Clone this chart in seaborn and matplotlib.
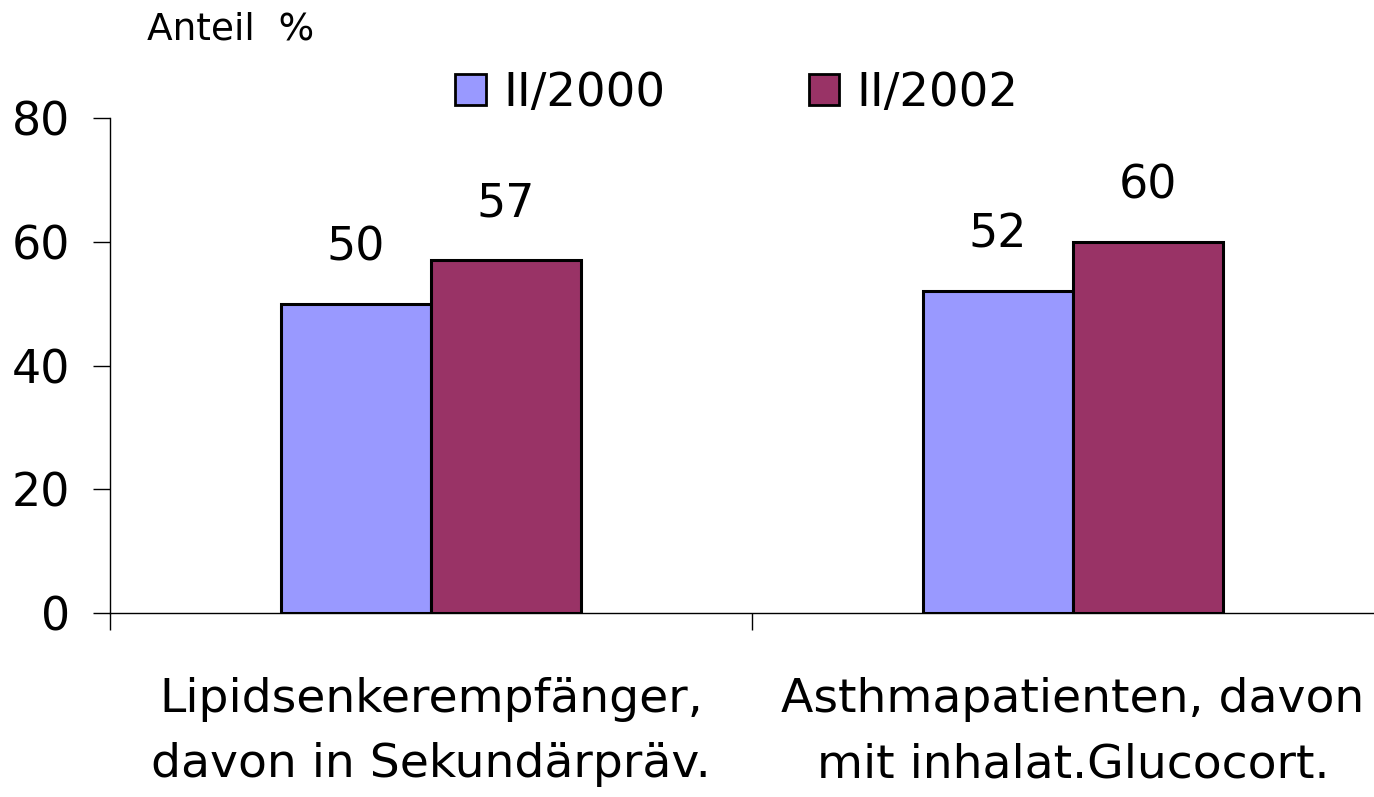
import matplotlib
matplotlib.use("Agg")
import matplotlib.pyplot as plt
import matplotlib.patches as mpatches
import seaborn as sns
import pandas as pd

categories = ["Lipidsenkerempfänger,\ndavon in Sekundärpräv.",
              "Asthmapatienten, davon\nmit inhalat.Glucocort."]
series = ["II/2000", "II/2002"]
values_2000 = [50, 52]
values_2002 = [57, 60]
colors = ["#9999FF", "#993366"]
y_ticks = [0, 20, 40, 60, 80]

sns.set_theme(style="white", rc={"text.color": "black", "xtick.color": "black",
                                 "ytick.color": "black", "axes.labelcolor": "black"})
plt.rcParams["font.family"] = ["DejaVu Sans"]

df = pd.DataFrame({
    "Kategorie": categories * 2,
    "Jahr": [series[0]] * 2 + [series[1]] * 2,
    "Anteil": values_2000 + values_2002,
})

fig = plt.figure(figsize=(13.74, 7.97), dpi=100)
ax = fig.add_axes([110 / 1374, 1 - 613 / 797, 1264 / 1374, 495 / 797])

sns.barplot(data=df, x="Kategorie", y="Anteil", hue="Jahr", order=categories,
            hue_order=series, palette=colors, width=0.467, gap=0,
            edgecolor="black", linewidth=2.2, saturation=1, legend=False, ax=ax)

# value labels above bars
for cont in ax.containers:
    ax.bar_label(cont, padding=24, fontsize=33, color="black")

ax.set_ylim(0, 80)
ax.set_xlim(-0.5, 1.5 - 20 / 642)
ax.set_yticks(y_ticks)
ax.tick_params(axis="y", direction="out", length=12, width=1, labelsize=33, pad=17, left=True)

# ticks at the category borders, labels centered
ax.set_xticks([-0.5, 0.5])
ax.set_xticklabels(["", ""])
ax.set_xticks([0, 1], minor=True)
ax.set_xticklabels(categories, minor=True, fontsize=34, linespacing=1.58)
ax.tick_params(axis="x", which="major", direction="out", length=12, width=1, bottom=True)
ax.tick_params(axis="x", which="minor", length=0, pad=46)

ax.set_xlabel("")
ax.set_ylabel("")
for side in ["top", "right"]:
    ax.spines[side].set_visible(False)
for side in ["left", "bottom"]:
    ax.spines[side].set_linewidth(1)
    ax.spines[side].set_color("black")

fig.text(147 / 1374, 1 - 29 / 797, "Anteil  %", fontsize=27, va="center", ha="left")

handles = [mpatches.Patch(facecolor=c, edgecolor="black", linewidth=2) for c in colors]
fig.legend(handles, series, loc="center", bbox_to_anchor=(737 / 1374, 1 - 93 / 797),
           ncol=2, frameon=False, fontsize=33.5, handlelength=0.65, handleheight=0.65,
           handletextpad=0.37, columnspacing=3.1)

fig.savefig("out.png", dpi=100)
